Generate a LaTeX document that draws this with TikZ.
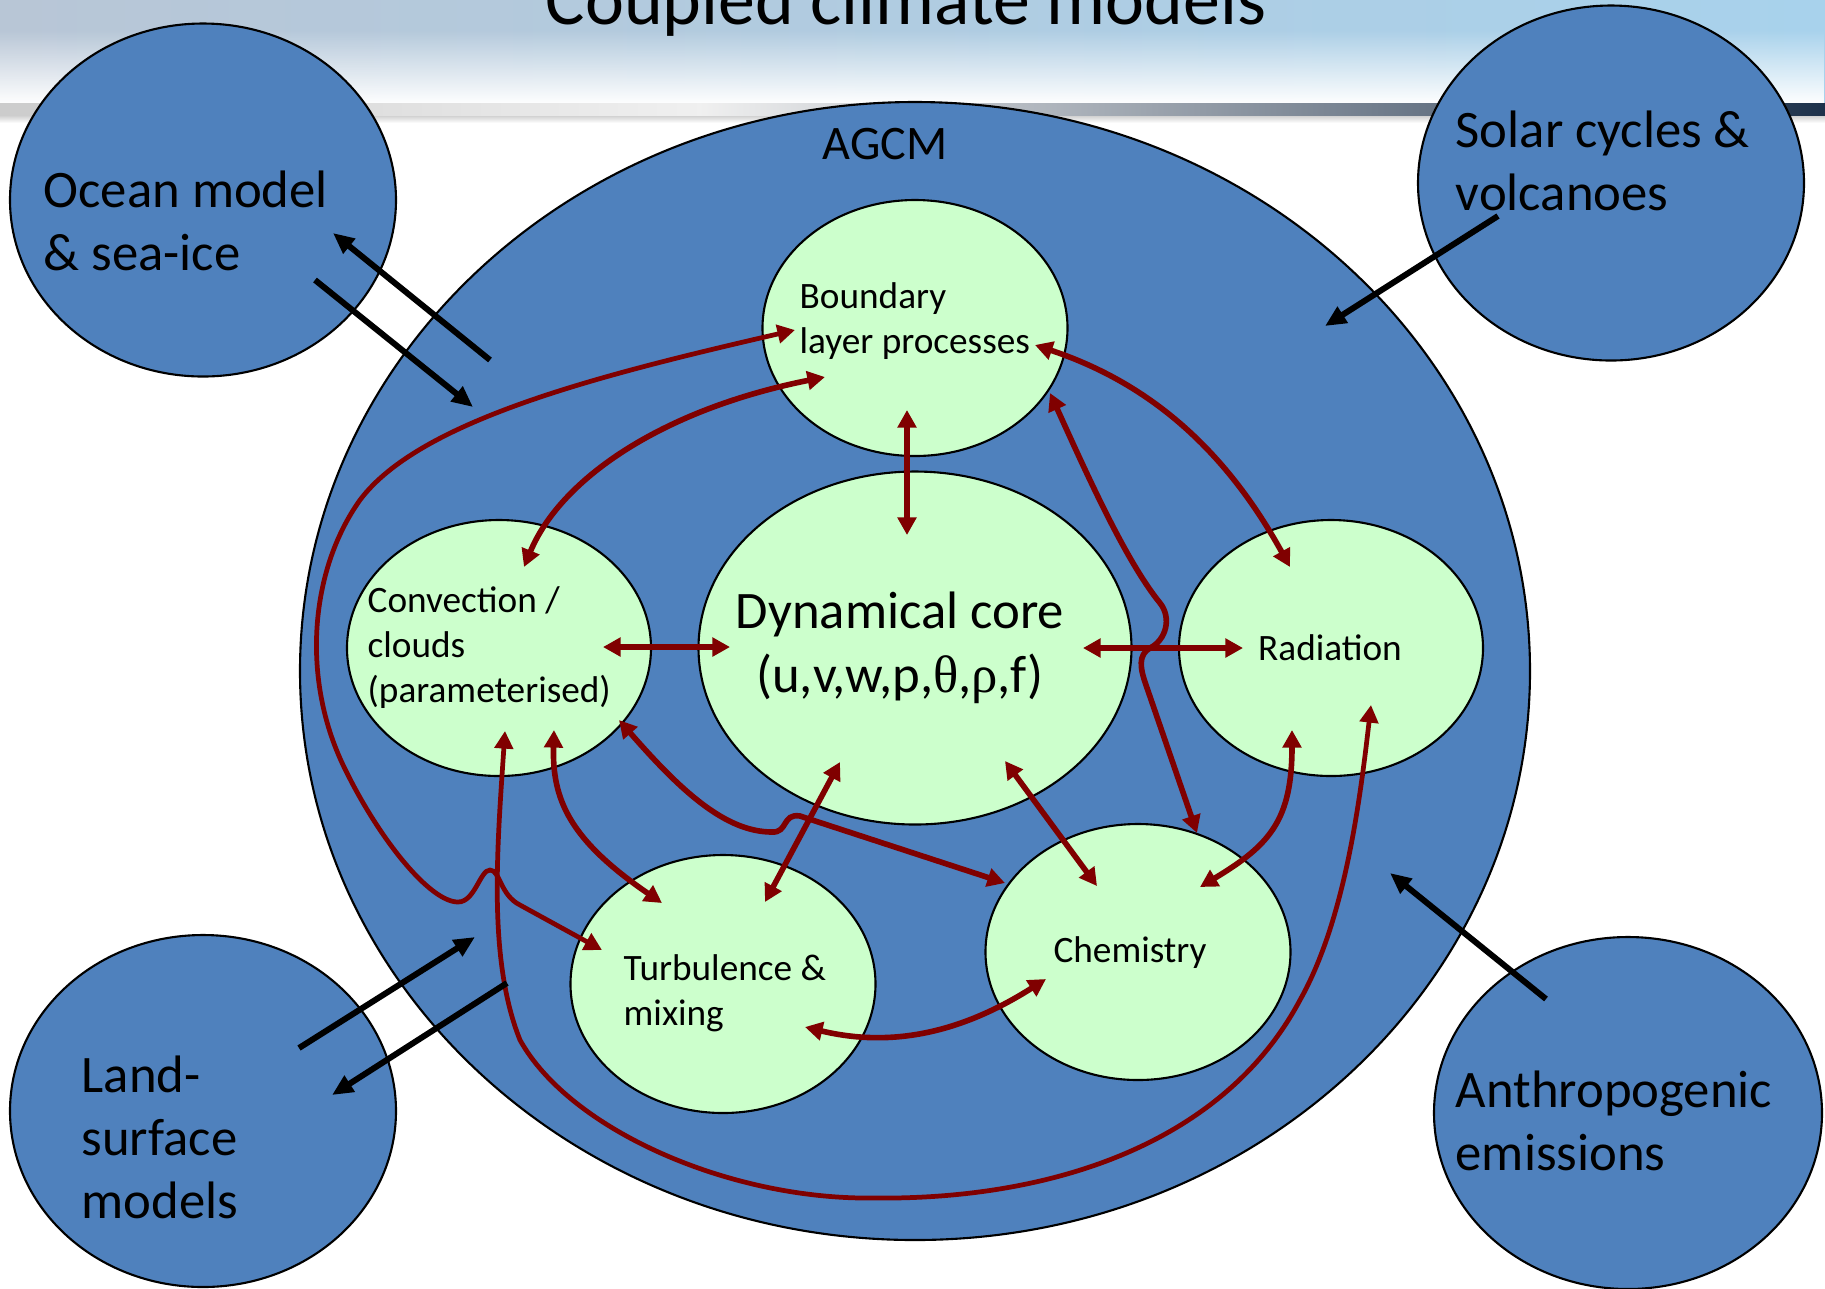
\documentclass[tikz,border=0pt]{standalone}
\usepackage{fontspec}
\setmainfont{Carlito}
\newfontfamily\symfont{Liberation Serif}
\usetikzlibrary{shapes.geometric,arrows.meta,fadings}

\newlength{\du}
\setlength{\du}{0.28453pt}

\definecolor{agcmblue}{RGB}{79,129,189}
\definecolor{procgreen}{RGB}{204,255,204}
\definecolor{linkred}{RGB}{128,0,0}
\definecolor{barnavy}{RGB}{30,50,75}
\definecolor{skyleft}{RGB}{184,198,214}
\definecolor{skyright}{RGB}{168,210,236}

\tikzfading[name=skyfade, top color=transparent!100, bottom color=transparent!0]

\tikzset{
  bluecircle/.style={ellipse, draw=black, line width=0.6pt, fill=agcmblue, inner sep=0pt},
  greencircle/.style={ellipse, draw=black, line width=0.6pt, fill=procgreen, inner sep=0pt},
  outertext/.style={align=left, inner sep=0pt, font=\fontsize{15}{17.9}\selectfont},
  proctext/.style={align=left, inner sep=0pt, font=\fontsize{10.6}{12.8}\selectfont},
  link/.style={draw=linkred, line width=1.6pt,
    {Triangle[length=5pt,width=5.2pt]}-{Triangle[length=5pt,width=5.2pt]}},
  longlink/.style={link, line width=1.35pt},
  feed/.style={draw=black, line width=1.7pt, -{Triangle[length=6pt,width=5.2pt]}},
}

\begin{document}
\begin{tikzpicture}[x=1\du,y=-1\du]
\useasboundingbox (0,0) rectangle (1825,1288);
\clip (0,0) rectangle (1825,1288);

% slide header
\shade[left color=skyleft, middle color=white, right color=skyright] (0,0) rectangle (1825,104);
\fill[white, path fading=skyfade] (0,30) rectangle (1825,104);
\shade[left color=gray!40, right color=gray!12] (0,103) rectangle (700,116);
\shade[left color=gray!12, right color=barnavy] (700,103) rectangle (1825,116);
\shade[top color=gray!35, bottom color=white] (0,116) rectangle (1825,123);
\node[font=\fontsize{21}{25}\selectfont, anchor=base] (title) at (906,24) {Coupled climate models};

% outer models
\node[bluecircle, minimum width=386\du, minimum height=353\du] (ocean) at (203,200) {};
\node[bluecircle, minimum width=386\du, minimum height=355\du] (solar) at (1611,183) {};
\node[bluecircle, minimum width=386\du, minimum height=352\du] (land) at (203,1111) {};
\node[bluecircle, minimum width=388\du, minimum height=352\du] (anthro) at (1628,1113) {};
\node[bluecircle, minimum width=1230\du, minimum height=1138\du] (agcm) at (915,671) {};

% processes
\node[greencircle, minimum width=305\du, minimum height=256\du] (bl) at (915,328) {};
\node[greencircle, minimum width=433\du, minimum height=353\du] (dc) at (915,648) {};
\node[greencircle, minimum width=304\du, minimum height=256\du] (cv) at (499,648) {};
\node[greencircle, minimum width=304\du, minimum height=256\du] (rad) at (1331,648) {};
\node[greencircle, minimum width=305\du, minimum height=258\du] (tb) at (723,984) {};
\node[greencircle, minimum width=305\du, minimum height=256\du] (chem) at (1138,952) {};

% labels (base = last line)
\node[outertext, anchor=base west] (ocean-t) at (43,270) {Ocean model\\\& sea-ice};
\node[outertext, anchor=base west] (solar-t) at (1455,210) {Solar cycles \&\\volcanoes};
\node[outertext, anchor=base west] (land-t) at (81,1218) {Land-\\surface\\models};
\node[outertext, anchor=base west] (anthro-t) at (1455,1170) {Anthropogenic\\emissions};
\node[inner sep=0pt, font=\fontsize{13.7}{16}\selectfont, anchor=base] (agcm-t) at (885,159) {AGCM};
\node[proctext, anchor=base west] (bl-t) at (799,353) {Boundary\\layer processes};
\node[proctext, anchor=base west] (cv-t) at (367,702) {Convection /\\clouds\\(parameterised)};
\node[inner sep=0pt, align=center, font=\fontsize{15}{18.2}\selectfont, anchor=base] (dc-t) at (900,692)
  {Dynamical core\\(u,v,w,p,{\symfont θ},{\symfont ρ},f)};
\node[proctext, anchor=base] (rad-t) at (1330,660) {Radiation};
\node[proctext, anchor=base west] (tb-t) at (623,1025) {Turbulence \&\\mixing};
\node[proctext, anchor=base] (chem-t) at (1130,962) {Chemistry};

% arrow ends
\coordinate (bl-a) at (907,410);   \coordinate (dc-a) at (907,535);
\coordinate (cv-b) at (603,647);   \coordinate (dc-b) at (730,647);
\coordinate (dc-c) at (1083,648);  \coordinate (rad-c) at (1243,648);
\coordinate (bl-d) at (825,377);   \coordinate (cv-d) at (524,567);
\coordinate (bl-e) at (1035,345);  \coordinate (rad-e) at (1290,567);
\coordinate (dc-f) at (840,762);   \coordinate (tb-f) at (765,902);
\coordinate (dc-g) at (1005,761);  \coordinate (chem-g) at (1097,886);
\coordinate (cv-h) at (554,730);   \coordinate (tb-h) at (662,903);
\coordinate (tb-i) at (805,1027);  \coordinate (chem-i) at (1046,979);
\coordinate (rad-j) at (1292,730); \coordinate (chem-j) at (1200,887);
\coordinate (bl-k) at (1050,393);  \coordinate (chem-k) at (1197,833);
\coordinate (cv-l) at (619,720);   \coordinate (chem-l) at (1005,883);
\coordinate (bl-m) at (795,330);   \coordinate (tb-m) at (602,950);
\coordinate (cv-n) at (505,731);   \coordinate (rad-n) at (1371,705);

% couplings inside the AGCM
\draw[link] (bl-a) -- (dc-a);
\draw[link] (cv-b) -- (dc-b);
\draw[link] (dc-c) -- (rad-c);
\draw[link] (cv-d) .. controls (560,480) and (660,410) .. (bl-d);
\draw[link] (bl-e) .. controls (1140,380) and (1220,440) .. (rad-e);
\draw[link] (dc-f) -- (tb-f);
\draw[link] (dc-g) -- (chem-g);
\draw[link] (cv-h) .. controls (552,800) and (570,840) .. (tb-h);
\draw[link] (tb-i) .. controls (880,1045) and (950,1040) .. (chem-i);
\draw[link] (rad-j) .. controls (1292,820) and (1270,845) .. (chem-j);
\draw[link] (bl-k) .. controls (1085,470) and (1125,560) .. (1160,603)
  .. controls (1172,618) and (1166,640) .. (1150,648)
  .. controls (1138,655) and (1140,668) .. (1146,685) -- (chem-k);
\draw[link] (cv-l) .. controls (680,790) and (725,832) .. (772,832)
  .. controls (788,833) and (782,813) .. (800,816) -- (chem-l);
\draw[longlink] (bl-m) .. controls (600,375) and (420,420) .. (360,500)
  .. controls (310,570) and (300,680) .. (346,771)
  .. controls (380,840) and (430,902) .. (458,902)
  .. controls (475,902) and (480,870) .. (490,870)
  .. controls (500,870) and (500,895) .. (520,905) -- (tb-m);
\draw[longlink] (cv-n) .. controls (497,850) and (488,960) .. (520,1040)
  .. controls (570,1130) and (730,1200) .. (874,1198)
  .. controls (1040,1200) and (1220,1150) .. (1300,1000)
  .. controls (1345,920) and (1360,800) .. (rad-n);

% exchanges with the outer models
\coordinate (ocean-o1) at (490,360);  \coordinate (ocean-o2) at (333,233);
\coordinate (ocean-i1) at (315,280);  \coordinate (ocean-i2) at (473,407);
\coordinate (solar-1) at (1498,216);  \coordinate (solar-2) at (1325,326);
\coordinate (land-i1) at (299,1048);  \coordinate (land-i2) at (475,937);
\coordinate (land-o1) at (507,983);   \coordinate (land-o2) at (332,1095);
\coordinate (anthro-1) at (1546,999); \coordinate (anthro-2) at (1390,873);
\draw[feed] (ocean-o1) -- (ocean-o2);
\draw[feed] (ocean-i1) -- (ocean-i2);
\draw[feed] (solar-1) -- (solar-2);
\draw[feed] (land-i1) -- (land-i2);
\draw[feed] (land-o1) -- (land-o2);
\draw[feed] (anthro-1) -- (anthro-2);
\end{tikzpicture}
\end{document}
